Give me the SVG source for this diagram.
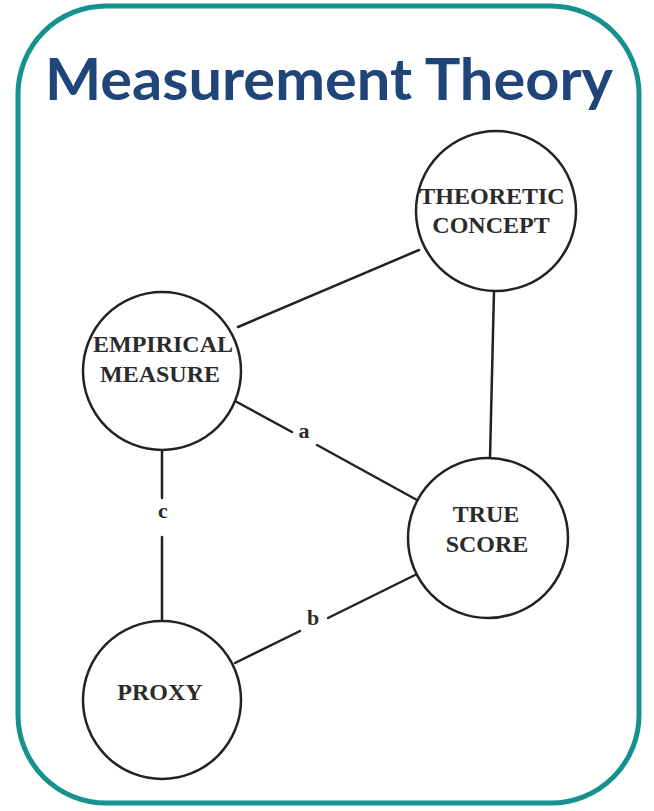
<svg xmlns="http://www.w3.org/2000/svg" width="654" height="811" viewBox="0 0 654 811">
<style>
.node circle{fill:#fff;stroke:#222;stroke-width:2.5}
.lbl{font-family:"Liberation Serif","Times New Roman",serif;font-weight:bold;font-size:24px;fill:#2b2b2b;text-anchor:middle}
.edge{font-family:"Liberation Serif","Times New Roman",serif;font-weight:bold;font-size:22px;fill:#2b2b2b;text-anchor:middle}
#connectors line{stroke:#222;stroke-width:2.5;stroke-linecap:round}
</style>
<rect x="0" y="0" width="654" height="811" fill="#fff"/>
<rect x="18" y="6" width="621" height="797" rx="88" ry="88" fill="#fff" stroke="#16918f" stroke-width="5"/>
<text x="329" y="100" font-family="Lato,'Open Sans',sans-serif" font-weight="bold" font-size="58" fill="#1f4579" text-anchor="middle" textLength="568" lengthAdjust="spacingAndGlyphs">Measurement Theory</text>
<g id="connectors">
<line x1="238" y1="327" x2="419" y2="250"/>
<line x1="494" y1="291" x2="490" y2="458"/>
<line x1="235" y1="401" x2="292" y2="432"/>
<line x1="317" y1="445" x2="417" y2="500"/>
<line x1="162" y1="450" x2="162" y2="498"/>
<line x1="162" y1="537" x2="162" y2="622"/>
<line x1="235" y1="663" x2="300" y2="631"/>
<line x1="328" y1="618" x2="415" y2="575"/>
<text class="edge" x="304" y="438">a</text>
<text class="edge" x="163" y="518">c</text>
<text class="edge" x="313" y="625">b</text>
</g>
<g id="theoretic-concept" class="node">
<circle cx="496" cy="211" r="80"/>
<text class="lbl" x="492" y="204">THEORETIC</text>
<text class="lbl" x="491" y="233">CONCEPT</text>
</g>
<g id="empirical-measure" class="node">
<circle cx="162" cy="371" r="79"/>
<text class="lbl" x="163" y="352">EMPIRICAL</text>
<text class="lbl" x="160" y="382">MEASURE</text>
</g>
<g id="true-score" class="node">
<circle cx="488" cy="538" r="80"/>
<text class="lbl" x="486" y="522">TRUE</text>
<text class="lbl" x="487" y="552">SCORE</text>
</g>
<g id="proxy" class="node">
<circle cx="162" cy="700" r="79"/>
<text class="lbl" x="160" y="700">PROXY</text>
</g>
</svg>
